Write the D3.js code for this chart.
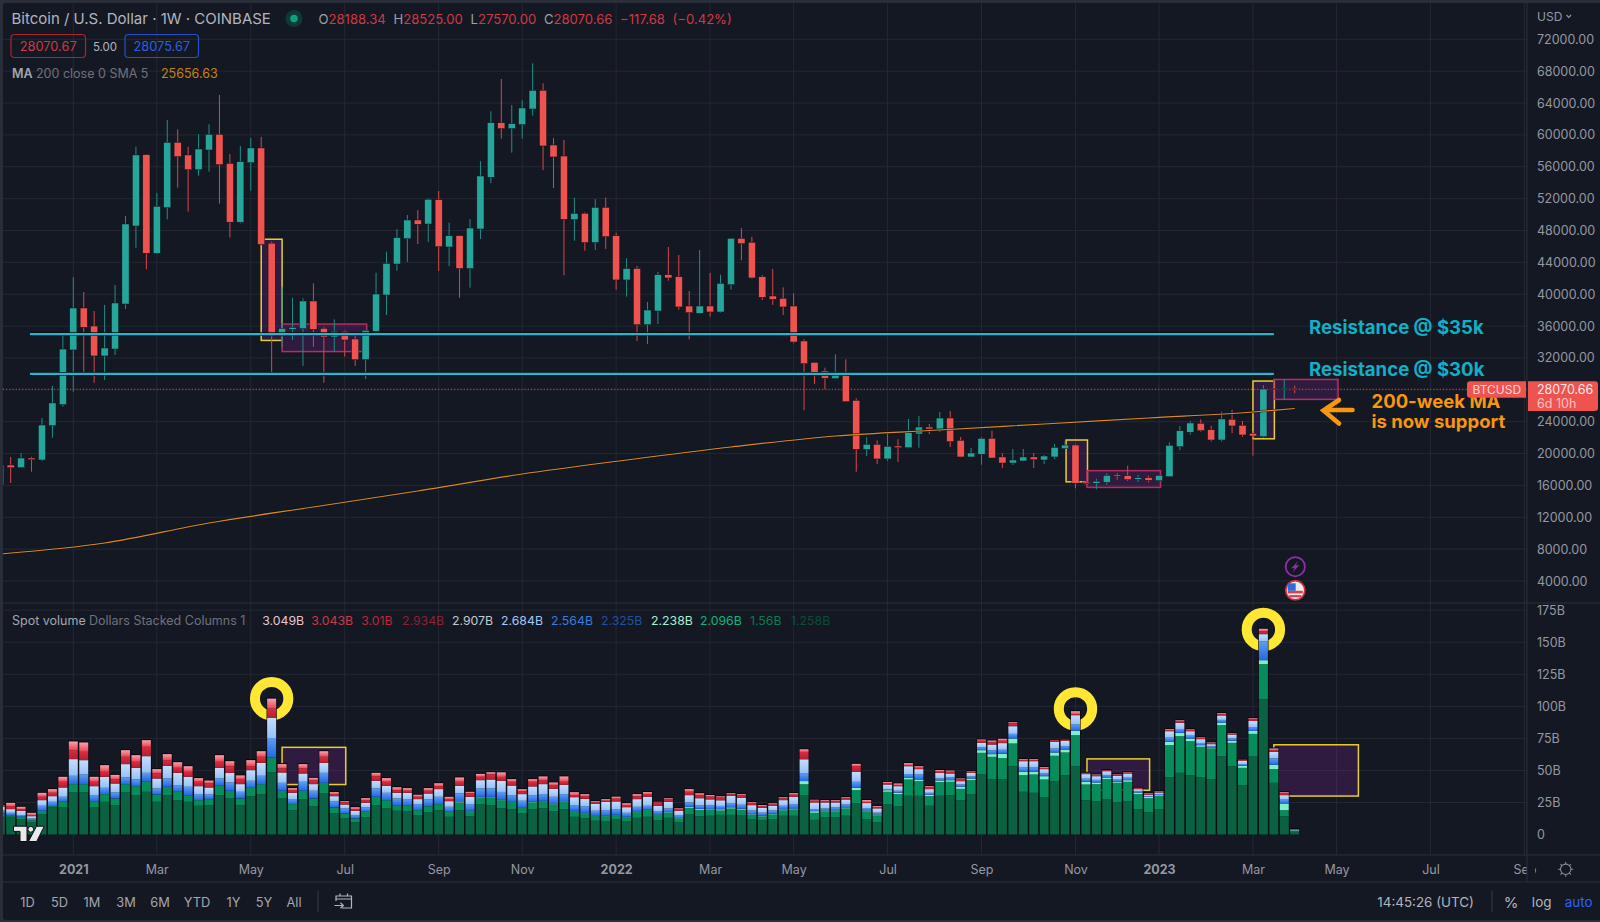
<!DOCTYPE html>
<html>
<head>
<meta charset="utf-8">
<script src="https://cdn.jsdelivr.net/npm/d3@7"></script>
<style>
  html, body { margin: 0; padding: 0; background: #2a2e39; }
  svg { display: block; font-family: Inter, Roboto, "Liberation Sans", sans-serif; }
  .axis path, .axis line { display: none; }
  .axis text { fill: #9598a1; font-size: 12.5px; font-family: Inter, Roboto, sans-serif; }
</style>
</head>
<body>
<div id="chart"></div>
<script>
// Weekly BTCUSD candles, first bar is the week of 16 Nov 2020
const firstWeek = new Date(Date.UTC(2020, 10, 16));
const opens = [16050,18560,18220,19440,19190,23500,26130,33000,38270,36010,32250,33120,38770,48560,57510,45140,50860,59070,57480,55630,58100,60080,56430,49040,56510,58360,46410,34760,35600,35670,39150,35720,34630,35350,34380,31780,35350,39900,43790,46970,49320,48810,51870,45930,47350,43230,48190,54680,61530,60780,61280,63250,65600,58730,57350,49360,50160,46490,50910,47350,41790,43230,36170,37890,42450,42200,38520,37610,38520,37770,41200,47020,46520,42200,39780,39490,38520,34130,31450,30360,29400,29950,26680,20530,21160,19320,20950,20730,22450,23330,23080,24460,21660,19570,19900,21910,19570,18810,19070,19570,19190,19570,20610,21070,16430,16270,16390,17310,17220,16770,16970,16590,17090,20860,22670,23800,22990,21700,24300,23550,22540,22110,28190,28070,28188.34];
const highs = [18560,19570,20070,19600,24460,28480,34880,42130,40280,37890,38650,41160,49820,58520,57600,52710,61870,60700,58520,60080,61330,65010,57600,58610,59610,59740,46610,40940,39560,39490,41370,35850,36850,35420,34760,35470,42700,45340,48190,49950,50570,52040,52960,48980,47430,49440,56690,62960,67020,63750,64380,68990,66480,59610,59360,52120,50280,51950,52120,47720,44510,43540,39020,42790,45930,44920,40410,45550,42670,42450,47020,48310,47220,42410,43170,40870,40120,34380,31490,30780,32460,31830,26940,22040,21660,22540,21790,24340,24710,23710,25220,25340,22080,20700,22040,22870,20030,20570,20570,20070,19820,21200,21580,21200,16560,16840,17520,17560,18480,17310,17220,17310,21410,23460,24090,24300,23500,25250,25470,24090,22830,28600,28300,29270,28525];
const lows = [16050,16300,18220,17720,19060,21990,25880,27760,30150,28890,29230,32370,38150,45840,43130,45050,49400,53370,50360,54880,55380,51360,47110,48920,53000,46080,30070,33410,34250,30990,33410,28890,32790,32160,30990,29360,35260,37390,42950,44060,46300,46560,42920,43540,39560,40820,46930,53930,59520,57770,59520,62410,55590,53340,42370,46710,45460,45550,45680,40570,39690,34130,33750,36260,41700,38060,34340,37520,37180,37680,40570,44260,41950,39280,38650,37390,33840,25430,28730,28070,29400,26510,17720,19690,18690,19070,18940,20660,20730,22450,22700,20820,19530,19530,18600,19400,18190,18560,19030,18190,18690,19320,20570,15640,16110,15510,16090,16720,16560,16430,16390,16560,17060,20410,22370,22740,21490,21490,22540,22110,19730,21990,28000,26720,27570];
const closes = [18560,18220,19440,19230,23580,26350,33120,38270,35850,32250,33250,38900,48820,57480,45140,51040,59070,57260,55630,58230,60080,56260,49040,56640,58360,46240,34760,35720,35850,39150,35600,34630,35350,34250,31780,35470,40030,43880,47110,49320,48780,51920,45970,47350,43230,48310,54840,61530,60780,61410,63380,65600,58610,57230,49400,50160,46490,50910,47220,41790,43230,36170,38020,42450,42040,38400,37680,38520,37770,41370,47020,46340,42040,39610,39360,38400,34000,31280,30200,29450,30070,26510,20530,21160,19320,20910,20730,22620,23330,23080,24460,21490,19570,20070,21910,19440,18810,19190,19570,19230,19690,20780,21070,16270,16220,16520,17270,17150,16720,16970,16640,17270,21040,22870,23840,22870,21700,24340,23460,22330,22200,28100,28070,28190,28070.66];

// 200-week MA, read every ten bars
const maBars = [0,10,20,30,40,50,60,70,80,90,100,110,120,124];
const maValues = [7390,8771,11282,13290,15299,17433,19190,20822,22203,22956,23709,24462,25216,25656.63];

// Stacked spot volume in billions of dollars, one array per band from the bottom up
const volDarkGreen = [13.8,13.8,12.0,9.4,15.9,21.1,21.1,32.8,32.8,21.1,25.5,22.9,32.8,30.7,33.3,25.5,30.7,26.8,25.5,22.4,22.9,30.7,28.1,22.9,29.9,31.5,48.6,28.1,19.0,27.3,22.1,32.0,16.4,12.5,9.4,13.3,22.9,20.3,18.5,18.2,15.1,17.2,19.0,13.8,19.0,14.3,23.4,22.9,20.5,19.8,16.4,19.8,20.3,18.2,19.8,13.8,12.7,10.7,10.1,11.7,10.1,13.0,13.8,11.2,13.0,9.6,15.6,14.3,14.6,15.3,15.3,15.1,11.7,11.2,11.7,14.6,14.6,30.4,11.4,13.3,13.3,14.6,24.2,12.0,9.4,23.4,22.1,30.2,30.2,22.4,30.2,30.7,26.8,31.5,47.1,43.2,43.2,53.3,33.3,32.5,28.9,41.6,46.3,53.3,26.8,26.0,27.6,25.0,26.0,19.8,17.4,19.8,44.7,48.1,46.3,44.7,43.2,61.1,53.3,38.5,60.8,105.6,40.3,14.3,2.1];
const volGreen = [2.6,1.3,1.8,1.8,2.6,1.0,4.4,6.5,6.5,4.9,6.0,5.2,6.5,7.0,8.3,5.7,6.5,6.5,5.2,4.4,4.7,7.8,6.0,5.2,6.5,7.8,11.4,6.0,4.7,6.8,6.0,8.3,4.7,3.9,3.1,4.4,6.5,6.5,4.4,4.2,3.9,4.9,4.7,3.9,6.0,3.9,5.5,6.0,6.2,5.7,4.2,5.2,5.7,5.2,5.5,4.4,3.9,3.9,4.2,3.4,3.4,4.4,5.2,3.9,3.9,2.9,5.2,4.9,4.7,3.4,4.9,4.2,3.6,2.9,3.9,4.2,4.9,8.8,5.5,4.7,4.7,5.7,10.4,6.0,5.5,9.9,9.4,12.7,11.4,7.5,10.7,10.4,8.8,10.9,16.6,17.4,16.4,17.7,13.0,14.3,14.0,19.8,17.7,24.2,12.2,13.3,15.6,15.3,15.1,11.7,10.9,10.1,25.0,28.6,26.5,23.7,23.9,24.2,18.2,13.5,17.7,27.3,10.7,4.7,0.8];
const volMint = [0,0,0,0,0,0,0,0,0,0,0,0,0,0,0,0,0,0,0,0,0,0,0,0,0,0,0,0,0,0,0,0,0,0,0,0,0,0,0,0,0,0,0,0,0.8,0.3,0.5,0.5,0.3,0.3,0.3,0.5,0.3,0.3,0.5,0.3,0.3,0.3,0.3,0.3,0.3,0.5,0.3,0.5,0.5,0.3,0.8,0.8,0.5,1.0,1.0,0.8,0.5,0.5,0.5,0.8,0.8,2.5,1.3,0.8,0.8,0.8,1.8,0.8,0.8,1.3,1.0,1.3,1.3,1.0,1.3,1.3,1.6,1.3,2.1,2.1,3.4,3.9,2.6,2.1,2.6,2.6,2.3,3.4,2.1,1.3,1.3,0.8,1.3,1.3,1.0,0.8,2.6,2.6,2.1,1.3,0.8,2.1,1.6,1.6,2.3,3.1,3.4,5.2,0.5];
const volBlue = [2.6,1.8,1.3,1.3,3.9,3.4,3.9,6.5,7.5,4.7,4.9,4.7,5.2,5.2,6.5,4.7,6.5,5.2,6.5,4.7,3.6,5.2,6.5,5.2,5.5,6.5,15.3,6.2,3.9,7.0,6.0,7.8,4.9,3.9,2.6,3.4,6.5,5.7,5.2,5.2,4.7,5.2,5.7,3.9,6.2,5.2,6.5,6.5,6.2,4.9,5.4,5.2,5.2,5.7,5.7,4.4,5.2,3.6,4.4,4.4,3.1,3.7,3.1,2.6,2.9,2.0,3.4,2.6,2.9,2.6,2.9,3.1,2.9,2.4,2.6,2.8,3.4,5.8,1.3,1.5,2.3,2.3,4.7,1.8,1.3,0.8,1.6,2.9,4.2,1.6,1.6,2.2,1.8,1.6,2.2,3.0,3.1,3.6,3.3,3.3,2.5,3.0,2.6,5.2,2.4,2.0,1.8,1.7,1.9,1.0,0.7,0.8,3.2,3.0,2.2,1.7,1.0,2.0,1.8,1.4,3.0,14.6,5.0,3.0,0.1];
const volPale = [2.6,2.9,3.4,1.8,4.4,4.4,7.3,13.0,11.2,7.0,8.6,7.0,10.4,9.1,13.0,7.8,9.9,9.6,7.8,6.2,5.5,8.3,7.5,6.0,8.3,10.1,15.6,8.1,4.9,6.5,5.2,7.8,3.9,3.1,3.4,3.6,6.0,5.5,4.4,4.9,3.9,4.7,6.0,4.4,6.0,5.7,6.5,7.0,8.6,7.5,5.2,6.8,7.8,6.2,7.3,6.2,5.7,5.5,6.5,6.0,4.4,6.0,7.0,4.2,5.2,3.6,5.7,5.7,4.7,4.4,6.0,5.5,4.2,3.9,3.6,4.4,5.7,11.2,5.5,4.7,3.9,3.9,7.8,3.9,3.4,3.6,3.6,6.2,3.9,2.9,4.2,3.0,2.6,2.8,3.5,4.5,5.2,6.0,5.0,5.0,3.0,5.3,4.2,7.0,3.6,2.9,3.1,3.0,3.3,1.6,1.1,1.3,5.1,4.8,3.5,3.0,1.6,3.5,3.1,2.5,4.8,5.7,5.1,3.5,0.2];
const volRed = [0.8,2.3,1.0,0.8,2.6,2.6,4.4,7.0,6.5,3.4,3.9,3.1,5.7,4.7,7.3,3.9,4.4,3.9,3.9,3.4,3.1,4.7,5.2,3.9,3.1,4.7,7.3,3.1,2.1,3.9,3.1,4.7,1.6,1.6,1.0,2.1,3.6,3.1,2.1,1.6,1.8,2.1,2.3,1.6,3.1,2.6,2.6,3.9,3.1,2.9,2.3,3.6,3.1,2.9,2.3,1.6,2.1,1.0,0.8,2.1,1.3,2.1,2.1,2.6,1.8,1.0,2.6,2.3,2.1,2.1,1.3,1.8,1.3,1.3,1.0,1.3,1.6,5.7,1.3,0.8,1.0,1.0,4.4,0.8,0.8,1.0,0.8,0.8,1.0,1.3,1.0,1.3,1.3,0.8,1.6,1.8,1.8,2.1,0.8,0.8,0.8,1.0,0.5,0.8,0.5,0.5,0.5,0.8,0.5,0.5,0.5,0.5,0.8,1.0,1.0,1.0,0.8,1.0,0.5,0.3,1.3,2.1,1.3,1.3,0.3];
const volPink = [0.5,2.6,2.1,1.8,3.1,2.9,3.9,6.8,7.3,3.9,5.2,3.6,5.2,5.2,5.2,3.4,4.7,4.4,4.4,2.9,2.3,5.2,3.9,2.9,4.7,4.4,7.8,3.4,1.6,3.4,1.8,4.4,1.6,1.0,1.8,1.6,2.6,2.9,2.3,2.1,1.6,2.1,2.3,1.8,3.4,1.3,2.3,1.8,3.6,2.1,1.6,2.1,2.9,2.1,4.2,2.3,1.6,1.0,1.3,1.6,1.8,1.8,1.6,0.5,1.0,1.0,2.1,1.6,1.3,1.0,0.8,1.0,1.0,0.8,1.0,1.0,1.3,2.1,0.8,1.0,0.8,0.8,1.8,1.6,1.0,1.0,1.3,1.6,1.3,1.0,1.3,1.0,0.8,0.5,1.0,1.3,1.6,1.0,0.8,0.8,0.8,0.5,0.3,2.3,0.5,0.8,0.3,0.5,0.5,0.5,0.5,0.5,0.8,1.0,0.5,0.5,0.5,0.8,0.5,0.5,0.8,2.1,1.3,1.0,0.3];

// Axis labels
const priceTicks = [4000,8000,12000,16000,20000,24000,28000,32000,36000,40000,44000,48000,52000,56000,60000,64000,68000,72000];
const volTicks = [0,25,50,75,100,125,150,175];
const monthTicks = ["2021-01-04","2021-03-01","2021-05-03","2021-07-05","2021-09-06","2021-11-01","2022-01-03","2022-03-07","2022-05-02","2022-07-04","2022-09-05","2022-11-07","2023-01-02","2023-03-06","2023-05-01","2023-07-03","2023-09-04"];
const monthLabels = ["2021","Mar","May","Jul","Sep","Nov","2022","Mar","May","Jul","Sep","Nov","2023","Mar","May","Jul","Sep"];

// Legend of the volume study
const volLegendValues = ["3.049B","3.043B","3.01B","2.934B","2.907B","2.684B","2.564B","2.325B","2.238B","2.096B","1.56B","1.258B"];
const volLegendColors = ["#e9c6ca","#c9394a","#b72a3b","#8f2230","#c3c8cf","#a5c6fa","#3a7be0","#21509f","#a6efd3","#12b679","#0d7a50","#0c4f35"];
const rangeButtons = ["1D","5D","1M","3M","6M","YTD","1Y","5Y","All"];
const rangeButtonX = [27.5,59.5,92,126,160,197,233.5,264,294];

// Drawings on the chart, given in bars and dollars
const resistanceLevels = [35000, 30000];
const mainBoxes = [
  { from: 25, to: 27, top: 46900, bottom: 34200, kind: "yellow" },
  { from: 27, to: 35.1, top: 36250, bottom: 32800, kind: "pink" },
  { from: 102.1, to: 104.15, top: 21700, bottom: 16450, kind: "yellow" },
  { from: 104.1, to: 111.15, top: 17850, bottom: 15750, kind: "pink" },
  { from: 120, to: 122.05, top: 29100, bottom: 21850, kind: "yellow" },
  { from: 122, to: 128.15, top: 29300, bottom: 26800, kind: "pink" }
];
const volBoxes = [
  { from: 27, to: 33.1, top: 68, bottom: 39 },
  { from: 104.1, to: 110.1, top: 59, bottom: 34.5 },
  { from: 122, to: 130.1, top: 70, bottom: 30 }
];
const rings = [
  { bar: 26, value: 106 },
  { bar: 103, value: 98 },
  { bar: 121, value: 160 }
];

const W = 1600, H = 922;
const plotLeft = 3, plotRight = 1527, mainBottom = 603, volTop = 604, volBottom = 855;

const bg = "#141823", grid = "#242833", border = "#2a2e39";
const up = "#26a69a", down = "#ef5350";

const dates = opens.map((d, i) => d3.utcMonday.offset(firstWeek, i));
const monthDates = monthTicks.map(d => new Date(d + "T00:00:00Z"));

const x = d3.scaleUtc()
  .domain([new Date(Date.UTC(2021, 0, 4)), new Date(Date.UTC(2023, 0, 2))])
  .range([73.3, 1159]);
const y = d3.scaleLinear().domain([4000, 72000]).range([581, 39.3]);
const yVol = d3.scaleLinear().domain([0, 175]).range([834.5, 610.2]);
const xBar = i => x(d3.utcMillisecond.offset(firstWeek, i * 7 * 864e5));

const svg = d3.select("#chart").append("svg").attr("width", W).attr("height", H);

svg.append("rect").attr("x", 3).attr("y", 3).attr("width", W).attr("height", H - 5).attr("rx", 3).attr("fill", bg);

const defs = svg.append("defs");
defs.append("clipPath").attr("id", "mainClip").append("rect")
  .attr("x", plotLeft).attr("y", 3).attr("width", plotRight - plotLeft).attr("height", mainBottom - 3);
defs.append("clipPath").attr("id", "volClip").append("rect")
  .attr("x", plotLeft).attr("y", volTop).attr("width", plotRight - plotLeft).attr("height", volBottom - volTop);

function addGradient(id, bottom, top) {
  const g = defs.append("linearGradient").attr("id", id).attr("x1", 0).attr("x2", 0).attr("y1", 1).attr("y2", 0);
  g.append("stop").attr("offset", "0%").attr("stop-color", bottom);
  g.append("stop").attr("offset", "100%").attr("stop-color", top);
}
addGradient("gBlue", "#2467e2", "#5d9df4");
addGradient("gPale", "#94c1f8", "#c6ddfc");
addGradient("gRed", "#b01f33", "#df2a3f");
addGradient("gPink", "#ee4152", "#f7a3ac");

// Grid
const gridG = svg.append("g");
gridG.selectAll(".vgrid").data(monthDates).enter().append("line")
  .attr("x1", d => x(d)).attr("x2", d => x(d))
  .attr("y1", 3).attr("y2", volBottom)
  .attr("stroke", grid).attr("stroke-width", 1);
gridG.selectAll(".hgrid").data(priceTicks).enter().append("line")
  .attr("x1", plotLeft).attr("x2", plotRight)
  .attr("y1", d => y(d)).attr("y2", d => y(d))
  .attr("stroke", grid).attr("stroke-width", 1);
gridG.selectAll(".hgridVol").data(volTicks.slice(1)).enter().append("line")
  .attr("x1", plotLeft).attr("x2", plotRight)
  .attr("y1", d => yVol(d)).attr("y2", d => yVol(d))
  .attr("stroke", grid).attr("stroke-width", 1);

// Main pane
const main = svg.append("g").attr("clip-path", "url(#mainClip)");

main.selectAll(".box").data(mainBoxes).enter().append("rect")
  .attr("x", d => xBar(d.from)).attr("width", d => xBar(d.to) - xBar(d.from))
  .attr("y", d => y(d.top)).attr("height", d => y(d.bottom) - y(d.top))
  .attr("fill", "#9c27b0").attr("fill-opacity", 0.2)
  .attr("stroke", d => d.kind === "yellow" ? "#e6cf2e" : "#b52e60").attr("stroke-width", 1.5);

main.append("line")
  .attr("x1", plotLeft).attr("x2", plotRight)
  .attr("y1", y(closes[closes.length - 1])).attr("y2", y(closes[closes.length - 1]))
  .attr("stroke", down).attr("stroke-width", 1).attr("stroke-dasharray", "1 2.2");

main.selectAll(".wick").data(opens).enter().append("line")
  .attr("x1", (d, i) => x(dates[i])).attr("x2", (d, i) => x(dates[i]))
  .attr("y1", (d, i) => y(highs[i])).attr("y2", (d, i) => y(lows[i]))
  .attr("stroke", (d, i) => closes[i] >= opens[i] ? "#1f8f85" : "#d9464a").attr("stroke-width", 1);

main.selectAll(".body").data(opens).enter().append("rect")
  .attr("x", (d, i) => x(dates[i]) - 3.6).attr("width", 7.2)
  .attr("y", (d, i) => y(Math.max(opens[i], closes[i])))
  .attr("height", (d, i) => Math.max(1, Math.abs(y(opens[i]) - y(closes[i]))))
  .attr("fill", (d, i) => closes[i] >= opens[i] ? up : down)
  .attr("stroke", "#0c0f16").attr("stroke-width", 0.5);

// 200-week moving average
const maLine = d3.line().x((d, i) => xBar(maBars[i])).y(d => y(d)).curve(d3.curveMonotoneX);
main.append("path").datum(maValues).attr("d", maLine)
  .attr("fill", "none").attr("stroke", "#0c0f16").attr("stroke-width", 2.4).attr("stroke-opacity", 0.7);
main.append("path").datum(maValues).attr("d", maLine)
  .attr("fill", "none").attr("stroke", "#d98a20").attr("stroke-width", 1.2);

// Resistance lines
main.selectAll(".resEdge").data(resistanceLevels).enter().append("line")
  .attr("x1", xBar(2.85)).attr("x2", xBar(122))
  .attr("y1", d => y(d)).attr("y2", d => y(d))
  .attr("stroke", "#0a0d13").attr("stroke-width", 3.6);
main.selectAll(".res").data(resistanceLevels).enter().append("line")
  .attr("x1", xBar(2.85)).attr("x2", xBar(122))
  .attr("y1", d => y(d)).attr("y2", d => y(d))
  .attr("stroke", "#22b8cf").attr("stroke-width", 2.2);

// Event icons
const bolt = main.append("g").attr("transform", "translate(1295.3,566.7)");
bolt.append("circle").attr("r", 9.6).attr("fill", "none").attr("stroke", "#8e2fa8").attr("stroke-width", 1.8);
bolt.append("path").attr("d", "M3,-6 L-4,1.5 L-0.5,1.5 L-3,6 L4,-1.5 L0.5,-1.5 Z").attr("fill", "#8e2fa8");
const flag = main.append("g").attr("transform", "translate(1295.3,590.3)");
flag.append("circle").attr("r", 9.6).attr("fill", "#e9e9ee").attr("stroke", "#c9303c").attr("stroke-width", 1.8);
flag.append("rect").attr("x", -7.5).attr("y", 0.5).attr("width", 15).attr("height", 2.6).attr("fill", "#d9414c");
flag.append("rect").attr("x", -6).attr("y", 4.8).attr("width", 12).attr("height", 2.2).attr("fill", "#d9414c");
flag.append("rect").attr("x", -7.6).attr("y", -7).attr("width", 8).attr("height", 7.5).attr("fill", "#2f6bd6");

// Volume pane
const volTable = opens.map((d, i) => ({
  date: dates[i],
  darkGreen: volDarkGreen[i], green: volGreen[i], mint: volMint[i], blue: volBlue[i],
  pale: volPale[i], red: volRed[i], pink: volPink[i]
}));
const volKeys = ["darkGreen", "green", "mint", "blue", "pale", "red", "pink"];
const volFill = {
  darkGreen: "#0a6243", green: "#078c5b", mint: "#7cf0c8", blue: "url(#gBlue)",
  pale: "url(#gPale)", red: "url(#gRed)", pink: "url(#gPink)"
};
const stacked = d3.stack().keys(volKeys)(volTable);

const vol = svg.append("g").attr("clip-path", "url(#volClip)");

vol.selectAll(".vbox").data(volBoxes).enter().append("rect")
  .attr("x", d => xBar(d.from)).attr("width", d => xBar(d.to) - xBar(d.from))
  .attr("y", d => yVol(d.top)).attr("height", d => yVol(d.bottom) - yVol(d.top))
  .attr("fill", "#9c27b0").attr("fill-opacity", 0.2)
  .attr("stroke", "#e6cf2e").attr("stroke-width", 1.5);

vol.selectAll(".ring").data(rings).enter().append("circle")
  .attr("cx", d => xBar(d.bar)).attr("cy", d => yVol(d.value)).attr("r", 16.7)
  .attr("fill", "none").attr("stroke", "#ffe733").attr("stroke-width", 10);

// dark frame behind every column
vol.selectAll(".frame").data(volTable).enter().append("rect")
  .attr("x", d => x(d.date) - 5.1).attr("width", 10.2)
  .attr("y", d => yVol(d3.sum(volKeys, k => d[k])) - 1)
  .attr("height", d => yVol(0) - yVol(d3.sum(volKeys, k => d[k])) + 1)
  .attr("fill", "#06080c");

vol.selectAll(".layer").data(stacked).enter().append("g")
  .attr("fill", d => volFill[d.key])
  .selectAll("rect").data(d => d).enter().append("rect")
  .attr("x", d => x(d.data.date) - 4.5).attr("width", 9)
  .attr("y", d => yVol(d[1]))
  .attr("height", d => yVol(d[0]) - yVol(d[1]));

// TradingView logo
const logo = vol.append("g").attr("fill", "#e9eaec").attr("stroke", "#0a0c11").attr("stroke-width", 1);
logo.append("path").attr("d", "M13.5,826.2 H27 V841.5 H20 V831.4 H13.5 Z");
logo.append("circle").attr("cx", 30.8).attr("cy", 829.3).attr("r", 2.9);
logo.append("path").attr("d", "M44.3,826.2 H36.5 L28.5,841.5 H36.7 Z");

// Price axis
svg.append("g").attr("class", "axis").attr("transform", `translate(${1537},0)`)
  .call(d3.axisRight(y).tickValues(priceTicks.filter(d => d !== 28000)).tickFormat(d3.format(".2f")).tickSize(0).tickPadding(0));
svg.append("g").attr("class", "axis").attr("transform", `translate(${1537},0)`)
  .call(d3.axisRight(yVol).tickValues(volTicks).tickFormat(d => d === 0 ? "0" : d + "B").tickSize(0).tickPadding(0));
svg.append("text").attr("x", 1537).attr("y", 20.5).attr("fill", "#9598a1").attr("font-size", 12).text("USD");
svg.append("path").attr("d", "M1566.5,15 l2.3,2.4 l2.3,-2.4").attr("fill", "none").attr("stroke", "#9598a1").attr("stroke-width", 1.1);

// Time axis
const xAxis = svg.append("g").attr("class", "axis")
  .attr("transform", "translate(0,865)")
  .call(d3.axisBottom(x).tickValues(monthDates).tickFormat((d, i) => monthLabels[i]).tickSize(0).tickPadding(0));
xAxis.selectAll("text").attr("dy", "0.71em")
  .attr("font-weight", (d, i) => /^20/.test(monthLabels[i]) ? 700 : 400);
svg.append("rect").attr("x", plotRight).attr("y", 856).attr("width", 8).attr("height", 25).attr("fill", bg);

// Pane frames
[[plotLeft, volBottom, W, volBottom], [plotLeft, 882, W, 882], [plotLeft, mainBottom, W, mainBottom]].forEach(p => {
  svg.append("line").attr("x1", p[0]).attr("y1", p[1]).attr("x2", p[2]).attr("y2", p[3]).attr("stroke", border);
});
svg.append("line").attr("x1", plotRight).attr("x2", plotRight).attr("y1", 3).attr("y2", 882).attr("stroke", border);

// Text drawn on the chart
[["Resistance @ $35k", 334], ["Resistance @ $30k", 375.7]].forEach(t => {
  svg.append("text").attr("x", 1309).attr("y", t[1]).attr("fill", "#10b0c8")
    .attr("font-size", 18.6).attr("font-weight", 700).text(t[0]);
});
[["200-week MA", 408.3], ["is now support", 428.3]].forEach(t => {
  svg.append("text").attr("x", 1371.5).attr("y", t[1]).attr("fill", "#f7960f")
    .attr("font-size", 18.5).attr("font-weight", 700).text(t[0]);
});
svg.append("path").attr("d", "M1352.5,410 H1325 M1339,400 L1323.5,410.5 L1339,423.5")
  .attr("fill", "none").attr("stroke", "#f7960f").attr("stroke-width", 4.6).attr("stroke-linecap", "round").attr("stroke-linejoin", "miter");

// Last price labels
svg.append("path").attr("d", "M1526,381.3 H1470 a3,3 0 0 0 -3,3 V394.7 a3,3 0 0 0 3,3 H1526 Z").attr("fill", down);
svg.append("path").attr("d", "M1528,381.3 H1595 a3,3 0 0 1 3,3 V408 a3,3 0 0 1 -3,3 H1528 Z").attr("fill", down);
svg.append("text").attr("x", 1472.5).attr("y", 393.8).attr("fill", "#f7dcdc").attr("font-size", 12).text("BTCUSD");
svg.append("text").attr("x", 1537).attr("y", 393.8).attr("fill", "#fbe9e9").attr("font-size", 12.5).text("28070.66");
svg.append("text").attr("x", 1537).attr("y", 407.5).attr("fill", "#f8c4c3").attr("font-size", 12.5).text("6d 10h");

// Header
svg.append("text").attr("x", 11.5).attr("y", 24).attr("fill", "#b2b5be").attr("font-size", 15).text("Bitcoin / U.S. Dollar · 1W · COINBASE");
svg.append("circle").attr("cx", 294).attr("cy", 18.5).attr("r", 8.5).attr("fill", "#0e3a35");
svg.append("circle").attr("cx", 294).attr("cy", 18.5).attr("r", 3.8).attr("fill", "#0aa37f");

const ohlc = svg.append("text").attr("x", 318.5).attr("y", 24).attr("font-size", 13.1).attr("word-spacing", 4);
[["O", "#9da0a9"], ["28188.34 ", "#cf3a43"], ["H", "#9da0a9"], ["28525.00 ", "#cf3a43"], ["L", "#9da0a9"], ["27570.00 ", "#cf3a43"], ["C", "#9da0a9"], ["28070.66 ", "#cf3a43"], ["−117.68 (−0.42%)", "#cf3a43"]]
  .forEach(p => ohlc.append("tspan").attr("fill", p[1]).text(p[0]));

svg.append("rect").attr("x", 11).attr("y", 34.5).attr("width", 74.5).attr("height", 23).attr("rx", 3.5).attr("fill", "none").attr("stroke", "#a8252f").attr("stroke-width", 1.2);
svg.append("text").attr("x", 48.2).attr("y", 50.5).attr("text-anchor", "middle").attr("fill", "#cf3a43").attr("font-size", 12.8).text("28070.67");
svg.append("text").attr("x", 105).attr("y", 50.5).attr("text-anchor", "middle").attr("fill", "#b2b5be").attr("font-size", 11.5).text("5.00");
svg.append("rect").attr("x", 125).attr("y", 34.5).attr("width", 73.5).attr("height", 23).attr("rx", 3.5).attr("fill", "none").attr("stroke", "#2450c8").attr("stroke-width", 1.2);
svg.append("text").attr("x", 161.8).attr("y", 50.5).attr("text-anchor", "middle").attr("fill", "#2d5fe0").attr("font-size", 12.8).text("28075.67");

svg.append("text").attr("x", 12).attr("y", 78).attr("fill", "#a3a6af").attr("font-size", 12.5).attr("font-weight", 600).text("MA");
svg.append("text").attr("x", 36).attr("y", 78).attr("fill", "#6f727c").attr("font-size", 12.5).text("200 close 0 SMA 5");
svg.append("text").attr("x", 161).attr("y", 78).attr("fill", "#c9800f").attr("font-size", 12.5).text("25656.63");

// Volume legend
svg.append("text").attr("x", 12).attr("y", 625).attr("fill", "#a3a6af").attr("font-size", 12.5).text("Spot volume");
svg.append("text").attr("x", 89).attr("y", 625).attr("fill", "#6f727c").attr("font-size", 12.5).text("Dollars Stacked Columns 1");
const legendX = [262.2, 311.2, 361.2, 402, 452, 501, 551, 601, 651, 700, 750, 791];
svg.selectAll(".legendVal").data(volLegendValues).enter().append("text")
  .attr("x", (d, i) => legendX[i]).attr("y", 625)
  .attr("fill", (d, i) => volLegendColors[i]).attr("font-size", 12.3).text(d => d);

// Bottom toolbar
svg.selectAll(".rangeBtn").data(rangeButtons).enter().append("text")
  .attr("x", (d, i) => rangeButtonX[i]).attr("y", 906.8).attr("text-anchor", "middle")
  .attr("fill", "#a3a6af").attr("font-size", 12.8).text(d => d);
svg.append("line").attr("x1", 318).attr("x2", 318).attr("y1", 891).attr("y2", 912).attr("stroke", "#363a45");
svg.append("path").attr("d", "M336,901 V896 H351.5 V908 H342 M336,899 H351.5 M340,893.5 V896 M347.5,893.5 V896 M334.5,905.5 H343 M340.5,902.8 L343.3,905.5 L340.5,908.2")
  .attr("fill", "none").attr("stroke", "#b2b5be").attr("stroke-width", 1.2);

svg.append("text").attr("x", 1377.3).attr("y", 907).attr("fill", "#b2b5be").attr("font-size", 13.4).text("14:45:26 (UTC)");
svg.append("line").attr("x1", 1492).attr("x2", 1492).attr("y1", 891).attr("y2", 912).attr("stroke", "#363a45");
svg.append("text").attr("x", 1511).attr("y", 907.5).attr("text-anchor", "middle").attr("fill", "#b2b5be").attr("font-size", 15).text("%");
svg.append("text").attr("x", 1541.7).attr("y", 907).attr("text-anchor", "middle").attr("fill", "#b2b5be").attr("font-size", 13.5).text("log");
svg.append("text").attr("x", 1578.7).attr("y", 907).attr("text-anchor", "middle").attr("fill", "#2962ff").attr("font-size", 13.5).text("auto");

// Gear
const gear = svg.append("g").attr("transform", "translate(1565.7,869.3)").attr("stroke", "#868993").attr("fill", "none");
gear.append("circle").attr("r", 5.2).attr("stroke-width", 1.1);
gear.selectAll("line").data(d3.range(8)).enter().append("line")
  .attr("x1", d => 5.2 * Math.cos(d * Math.PI / 4)).attr("y1", d => 5.2 * Math.sin(d * Math.PI / 4))
  .attr("x2", d => 7.4 * Math.cos(d * Math.PI / 4)).attr("y2", d => 7.4 * Math.sin(d * Math.PI / 4))
  .attr("stroke-width", 1.1);
</script>
</body>
</html>
